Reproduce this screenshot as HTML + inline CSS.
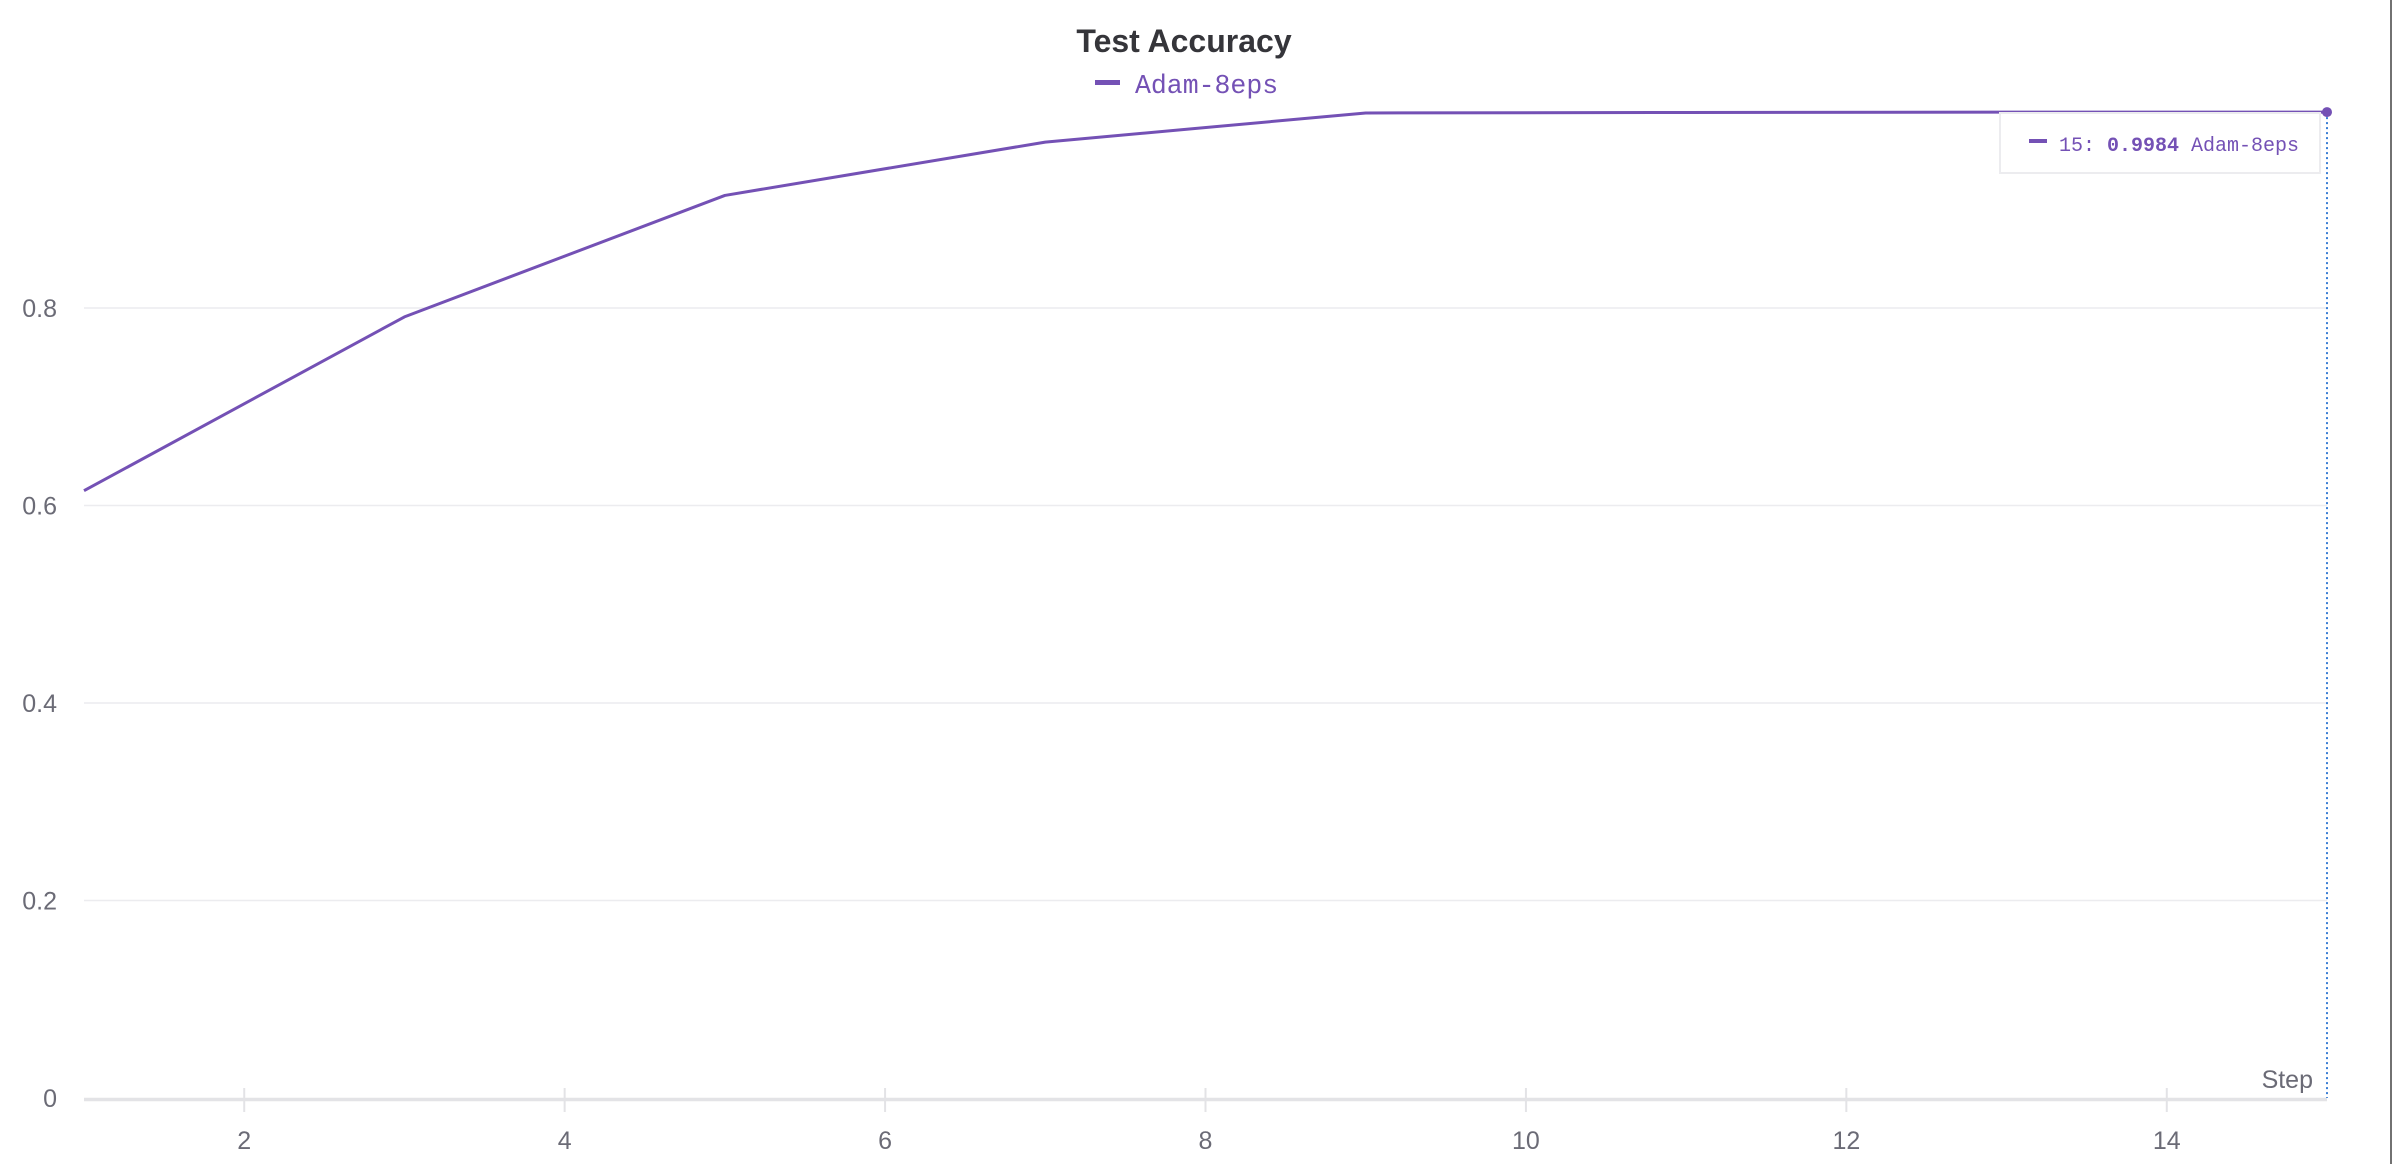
<!DOCTYPE html>
<html><head><meta charset="utf-8"><style>
html,body{margin:0;padding:0;background:#fff;width:2392px;height:1164px;overflow:hidden}
svg{display:block}
.tk{font-family:"Liberation Sans",sans-serif;font-size:25px;fill:#6b6b76}
.mono{font-family:"Liberation Mono",monospace}
</style></head><body>
<svg id="chart" width="2392" height="1164">
<text x="1184" y="52" text-anchor="middle" font-family="Liberation Sans, sans-serif" font-weight="bold" font-size="32" fill="#35353a">Test Accuracy</text>
<g>
<rect x="1095" y="80" width="25" height="5" fill="#7451b5"/>
<text x="1135" y="93" class="mono" font-size="26.5" fill="#7451b5">Adam-8eps</text>
</g>
<g id="grid"></g>
<g id="xaxis"></g>
<g id="yaxis"></g>
<g id="series"></g>
<line x1="2391" y1="0" x2="2391" y2="1164" stroke="#444" stroke-width="1.5"/>
</svg>
<script>
const steps=[1,3,5,7,9,11,13,15];
const accuracy=[0.615,0.791,0.914,0.968,0.9975,0.998,0.9983,0.9984];
const yTicks=[0,0.2,0.4,0.6,0.8];
const yTickLabels=["0","0.2","0.4","0.6","0.8"];
const xTicks=[2,4,6,8,10,12,14];
const xTickLabels=["2","4","6","8","10","12","14"];
const NS="http://www.w3.org/2000/svg";
const X0=84,X1=2327,Y0=1098;
const xs=s=>X0+(s-1)/(14)*(X1-X0);
const ys=v=>Y0-v*987.5;
function mk(t,a,p){const e=document.createElementNS(NS,t);for(const k in a)e.setAttribute(k,a[k]);p.appendChild(e);return e;}
const grid=document.getElementById('grid'),xa=document.getElementById('xaxis'),ya=document.getElementById('yaxis'),se=document.getElementById('series');
yTicks.forEach((v,i)=>{
 if(v>0){const g=mk('line',{x1:X0,x2:X1,y1:ys(v),y2:ys(v),stroke:'#ececef','stroke-width':1.5},grid);
 
 }
 const t=mk('text',{x:57,y:ys(v)+9,'text-anchor':'end',class:'tk'},ya);t.textContent=yTickLabels[i];
 
 
});
const ax=mk('line',{x1:X0,x2:X1,y1:1099.5,y2:1099.5,stroke:'#e3e3e6','stroke-width':3.5},xa);


xTicks.forEach((s,i)=>{
 const l=mk('line',{x1:xs(s),x2:xs(s),y1:1088,y2:1112,stroke:'#e3e3e6','stroke-width':2},xa);
 
 
 const t=mk('text',{x:xs(s),y:1149,'text-anchor':'middle',class:'tk'},xa);t.textContent=xTickLabels[i];
 
 
});
const st=mk('text',{x:2313,y:1088,'text-anchor':'end',class:'tk'},xa);st.textContent='Step';


const pl=mk('polyline',{points:steps.map((s,i)=>xs(s)+','+ys(accuracy[i])).join(' '),fill:'none',stroke:'#7451b5','stroke-width':3,'stroke-linejoin':'round'},se);


const li=steps.length-1,hx=xs(steps[li]),hy=ys(accuracy[li]);
const vl=mk('line',{x1:hx,x2:hx,y1:hy,y2:Y0,stroke:'#3b7fd6','stroke-width':2,'stroke-dasharray':'2 3'},se);


const dot=mk('circle',{cx:hx,cy:hy,r:5,fill:'#7451b5'},se);


const tb=mk('g',{},se);


const r=mk('rect',{x:2000,y:113,width:320,height:60,fill:'#fff',stroke:'#ececef','stroke-width':2},tb);


const sw=mk('rect',{x:2029,y:139,width:18,height:4,fill:'#7451b5'},tb);


const tt=mk('text',{x:2059,y:151,class:'mono','font-size':'20',fill:'#7451b5'},tb);


tt.innerHTML=steps[li]+': <tspan font-weight="bold">'+accuracy[li].toFixed(4)+'</tspan> Adam-8eps';
</script>
</body></html>
